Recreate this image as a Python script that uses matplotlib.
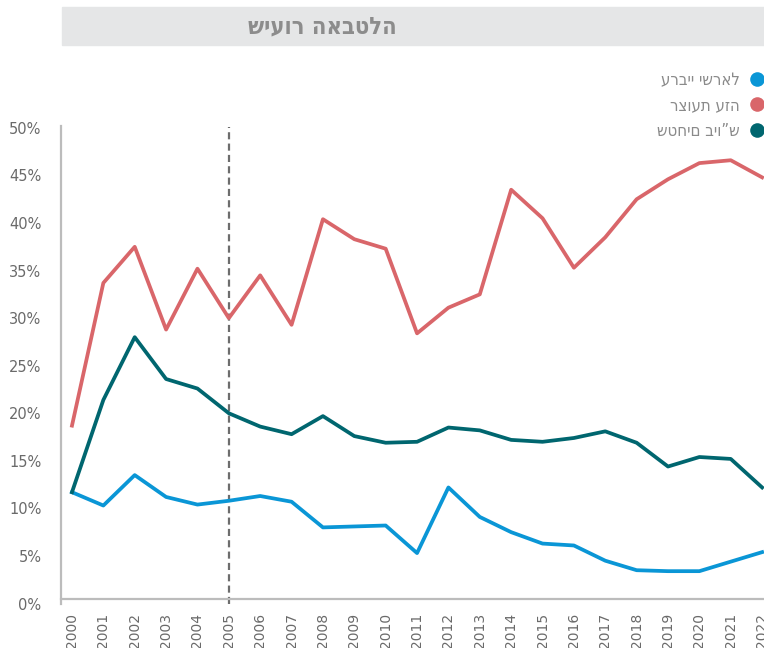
import matplotlib.pyplot as plt
from matplotlib.lines import Line2D
from matplotlib.patches import Rectangle

# נתונים
years = list(range(2000, 2023))
arab_israel = [11.7, 10.3, 13.5, 11.2, 10.4, 10.8, 11.3, 10.7, 8.0, 8.1, 8.2, 5.3,
               12.2, 9.1, 7.5, 6.3, 6.1, 4.5, 3.5, 3.4, 3.4, 4.4, 5.4]
gaza = [18.7, 33.7, 37.5, 28.8, 35.2, 30.0, 34.5, 29.3, 40.4, 38.3, 37.3, 28.4,
        31.1, 32.5, 43.5, 40.5, 35.3, 38.5, 42.5, 44.6, 46.3, 46.6, 44.8]
west_bank = [11.7, 21.4, 28.0, 23.6, 22.6, 20.0, 18.6, 17.8, 19.7, 17.6, 16.9, 17.0,
             18.5, 18.2, 17.2, 17.0, 17.4, 18.1, 16.9, 14.4, 15.4, 15.2, 12.2]
series_names = ['ערביי ישראל', 'רצועת עזה', 'שטחים ביו”ש']
colors = ['#0a96d6', '#d9666a', '#00666f']
title = 'שיעור האבטלה'

fig = plt.figure(figsize=(7.64, 6.48), dpi=100)
ax = fig.add_axes([61 / 764, 1 - 603.5 / 648, 703 / 764, 477.5 / 648])

for s in ['top', 'right']:
    ax.spines[s].set_visible(False)
for s in ['left', 'bottom']:
    ax.spines[s].set_color('#bcbcbc')
    ax.spines[s].set_linewidth(1.6)
ax.spines['bottom'].set_position(('data', 0.47))

for vals, c in zip([arab_israel, gaza, west_bank], colors):
    ax.plot(years, vals, color=c, lw=2.7, solid_joinstyle='round', zorder=3)

ax.axvline(2005, ymin=0, ymax=0.997, color='#6d6d6d', ls=(0, (3.2, 1.9)), lw=1.6,
           clip_on=False, zorder=2)

ax.set_xlim(1999.65, 2022.06)
ax.set_ylim(0, 50.2)
ax.set_yticks(range(0, 51, 5))
ax.set_yticklabels([f'{v}%' for v in range(0, 51, 5)])
ax.set_xticks(years)
ax.set_xticklabels([str(y) for y in years])
ax.tick_params(axis='both', length=0, colors='#6a6a6a', labelsize=10.5)
ax.tick_params(axis='y', pad=14)
ax.tick_params(axis='x', pad=10, labelrotation=90, labelsize=10)

# כותרת על רקע אפור
fig.patches.append(Rectangle((62 / 764, 1 - 45 / 648), 702 / 764, 38 / 648,
                             transform=fig.transFigure, color='#e5e6e7', zorder=0))
fig.text(322 / 764, 1 - 26 / 648, title, ha='center', va='center',
         fontsize=17, fontweight='bold', fontstretch='condensed', color='#8c8c8c')

# מקרא
handles = [Line2D([], [], ls='none', marker='o', markersize=10.5, color=c,
                  markeredgewidth=0) for c in colors]
leg = fig.legend(handles, series_names, loc='upper right',
                 bbox_to_anchor=(1.01, 1 - 64 / 648), markerfirst=False, frameon=False,
                 prop={'size': 12, 'stretch': 'condensed'}, labelcolor='#8a8a8a',
                 handletextpad=0.5, labelspacing=0.45, handlelength=1.0,
                 borderaxespad=0.0)

fig.savefig('out.png', dpi=100)
